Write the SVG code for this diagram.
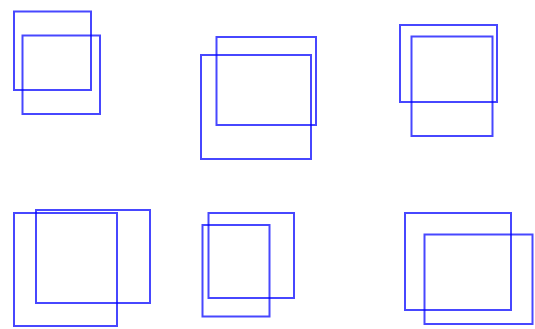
<svg xmlns="http://www.w3.org/2000/svg" width="535" height="329" viewBox="0 0 535 329">
<style>
rect{fill:none;stroke:#0000ff;stroke-width:2;stroke-opacity:0.72}
</style>
<rect width="535" height="329" style="fill:#fff;stroke:none"/>
<g id="pair1"><rect x="14" y="11.5" width="77" height="78.5"/><rect x="22.5" y="35.5" width="77.5" height="78.5"/></g>
<g id="pair2"><rect x="216.5" y="37" width="99.5" height="88"/><rect x="201" y="55" width="110" height="104"/></g>
<g id="pair3"><rect x="400" y="25" width="97" height="77"/><rect x="411.5" y="36.5" width="81" height="99.5"/></g>
<g id="pair4"><rect x="14" y="213" width="103" height="113"/><rect x="36" y="210" width="114" height="93"/></g>
<g id="pair5"><rect x="208.5" y="213" width="85.5" height="85"/><rect x="202.5" y="225" width="67" height="91.5"/></g>
<g id="pair6"><rect x="405" y="213" width="106" height="97"/><rect x="424.5" y="234.5" width="108" height="89.5"/></g>
</svg>
